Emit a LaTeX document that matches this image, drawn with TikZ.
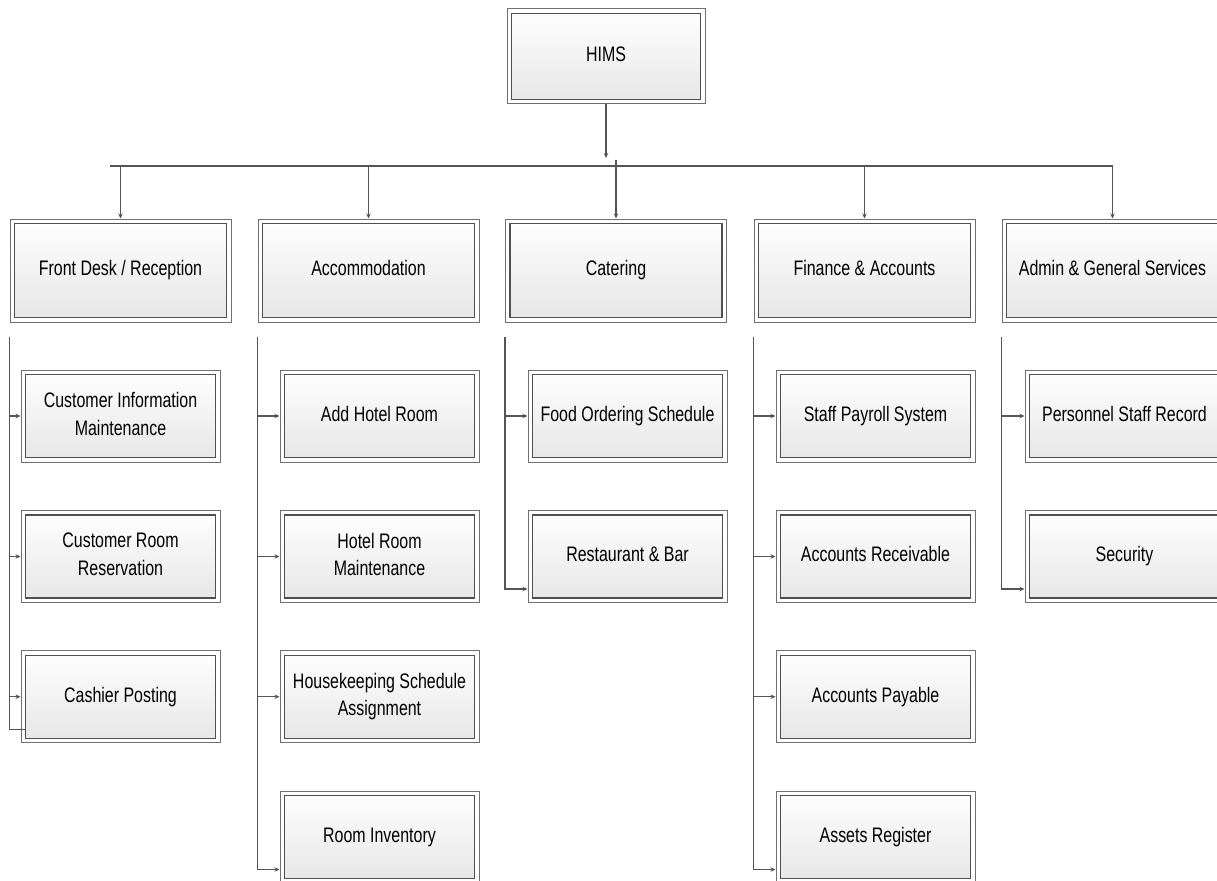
\documentclass[tikz,border=0pt]{standalone}
\usepackage{fontspec}
\setmainfont{Liberation Sans}[FakeStretch=0.76]
\usetikzlibrary{arrows.meta}
\definecolor{lineC}{HTML}{555555}
\definecolor{outerC}{HTML}{707070}
\definecolor{innerC}{HTML}{505050}
\definecolor{fillB}{HTML}{E6E6E6}
\tikzset{
  box/.style={draw=outerC, line width=1pt, fill=white, align=center,
    font=\fontsize{21}{27.5}\selectfont, text=black, inner sep=0pt,
    execute at begin node=\vphantom{Ag},
    execute at end node=\vphantom{Ag},
    path picture={\path[top color=white, bottom color=fillB, draw=innerC, line width=1.3pt]
      ([shift={(4.5pt,-4.5pt)}]path picture bounding box.north west) rectangle
      ([shift={(-4.5pt,4.5pt)}]path picture bounding box.south east);}},
  rootbox/.style={box, minimum width=198pt, minimum height=95pt},
  deptbox/.style={box, minimum width=221pt, minimum height=103pt},
  subbox/.style={box, minimum width=199pt, minimum height=92pt},
  ln/.style={draw=lineC, line width=1.1pt},
  arr/.style={ln, -{Stealth[length=5pt,width=4.5pt]}}
}
\begin{document}
\begin{tikzpicture}[x=1pt,y=-1pt]
\useasboundingbox (0,0) rectangle (1217,880);
% root
\node[rootbox] (hims) at (606,56.5) {HIMS};
% departments
\node[deptbox] (fd)  at (120.5,270.5) {Front Desk / Reception};
\node[deptbox] (acc) at (368.5,270.5) {Accommodation};
\node[deptbox] (cat) at (616,270.5) {Catering};
\node[deptbox] (fin) at (864.5,270.5) {Finance \& Accounts};
\node[deptbox] (adm) at (1112.5,270.5) {Admin \& General Services};
% children
\node[subbox] (fd1) at (120.5,416) {Customer Information\\Maintenance};
\node[subbox] (fd2) at (120.5,556.5) {Customer Room\\Reservation};
\node[subbox] (fd3) at (120.5,696.7) {Cashier Posting};
\node[subbox] (acc1) at (379.5,416) {Add Hotel Room};
\node[subbox] (acc2) at (379.5,556.5) {Hotel Room\\Maintenance};
\node[subbox] (acc3) at (379.5,696.7) {Housekeeping Schedule\\Assignment};
\node[subbox] (acc4) at (379.5,837) {Room Inventory};
\node[subbox] (cat1) at (627.5,416) {Food Ordering Schedule};
\node[subbox] (cat2) at (627.5,556.5) {Restaurant \& Bar};
\node[subbox] (fin1) at (875.5,416) {Staff Payroll System};
\node[subbox] (fin2) at (875.5,556.5) {Accounts Receivable};
\node[subbox] (fin3) at (875.5,696.7) {Accounts Payable};
\node[subbox] (fin4) at (875.5,837) {Assets Register};
\node[subbox] (adm1) at (1124.5,416) {Personnel Staff Record};
\node[subbox] (adm2) at (1124.5,556.5) {Security};
% bus
\coordinate (busL) at (110,166);
\coordinate (busR) at (1113,166);
\coordinate (himsEnd) at (606,158);
\coordinate (catTop) at (616,160);
\draw[ln] (busL) -- (busR);
\draw[arr] (hims.south) -- (himsEnd);
\foreach \n in {fd,acc,fin,adm}{\draw[arr] (\n.north |- busL) -- (\n.north);}
\draw[arr] (catTop) -- (cat.north);
% column trunks
\foreach \n in {fd,acc,cat,fin,adm}{\coordinate (\n V) at ([yshift=-14pt]\n.south west);}
\draw[arr] (fdV) |- (fd1.west);
\draw[arr] (fdV) |- (fd2.west);
\draw[arr] (fdV) |- (fd3.west);
\draw[ln] (fdV) |- ([shift={(4pt,14pt)}]fd3.south west);
\draw[arr] (accV) |- (acc1.west);
\draw[arr] (accV) |- (acc2.west);
\draw[arr] (accV) |- (acc3.west);
\draw[arr] (accV) |- ([yshift=14pt]acc4.south west);
\draw[arr] (catV) |- (cat1.west);
\draw[arr] (catV) |- ([yshift=14pt]cat2.south west);
\draw[arr] (finV) |- (fin1.west);
\draw[arr] (finV) |- (fin2.west);
\draw[arr] (finV) |- (fin3.west);
\draw[arr] (finV) |- ([yshift=14pt]fin4.south west);
\draw[arr] (admV) |- (adm1.west);
\draw[arr] (admV) |- ([yshift=14pt]adm2.south west);
\end{tikzpicture}
\end{document}
